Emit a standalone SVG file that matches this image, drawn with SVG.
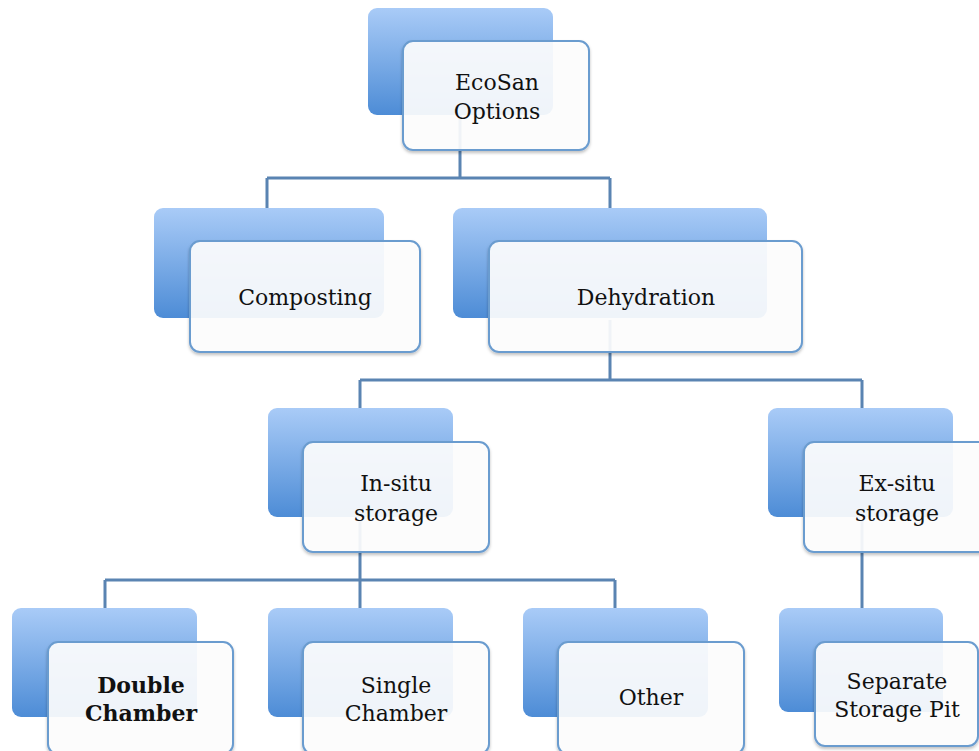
<svg xmlns="http://www.w3.org/2000/svg" width="979" height="751" viewBox="0 0 979 751">
<defs>
<linearGradient id="bg" x1="0" y1="0" x2="0" y2="1">
<stop offset="0" stop-color="#a9cbf7"/>
<stop offset="1" stop-color="#4d8cd6"/>
</linearGradient>
<filter id="sh" x="-10%" y="-10%" width="120%" height="130%">
<feDropShadow dx="0" dy="2" stdDeviation="1.5" flood-color="#000" flood-opacity="0.25"/>
</filter>
</defs>
<style>
.back{fill:url(#bg);}
.front{fill:#ffffff;fill-opacity:0.9;stroke:#6b9ccf;stroke-width:2;filter:url(#sh);}
.lbl{font-family:"DejaVu Serif","Liberation Serif",serif;font-size:22px;fill:#111;text-anchor:middle;}
.b{font-weight:bold;}
.conn{fill:none;stroke:#5a84b2;stroke-width:3;}
</style>
<rect width="979" height="751" fill="#ffffff"/>
<g id="connectors">
<path class="conn" d="M460,110 V178 M267,178 H610 M267,178 V208 M610,178 V208"/>
<path class="conn" d="M610,320 V380 M360,380 H862 M360,380 V408 M862,380 V408"/>
<path class="conn" d="M360,520 V580 M105,580 H615 M105,580 V608 M360,580 V608 M615,580 V608"/>
<path class="conn" d="M862,520 V608"/>
</g>
<g id="ecosan">
<rect class="back" x="368" y="8" width="185" height="107" rx="9"/>
<rect class="front" x="403" y="41" width="186" height="109" rx="10"/>
<text class="lbl" x="497" y="90">EcoSan</text>
<text class="lbl" x="497" y="119">Options</text>
</g>
<g id="composting">
<rect class="back" x="154" y="208" width="230" height="110" rx="9"/>
<rect class="front" x="190" y="241" width="230" height="111" rx="10"/>
<text class="lbl" x="305" y="305">Composting</text>
</g>
<g id="dehydration">
<rect class="back" x="453" y="208" width="314" height="110" rx="9"/>
<rect class="front" x="489" y="241" width="313" height="111" rx="10"/>
<text class="lbl" x="646" y="305">Dehydration</text>
</g>
<g id="insitu">
<rect class="back" x="268" y="408" width="185" height="109" rx="9"/>
<rect class="front" x="303" y="442" width="186" height="110" rx="10"/>
<text class="lbl" x="396" y="491">In-situ</text>
<text class="lbl" x="396" y="521">storage</text>
</g>
<g id="exsitu">
<rect class="back" x="768" y="408" width="185" height="109" rx="9"/>
<rect class="front" x="804" y="442" width="186" height="110" rx="10"/>
<text class="lbl" x="897" y="491">Ex-situ</text>
<text class="lbl" x="897" y="521">storage</text>
</g>
<g id="double">
<rect class="back" x="12" y="608" width="185" height="109" rx="9"/>
<rect class="front" x="48" y="642" width="185" height="112" rx="10"/>
<text class="lbl b" x="141" y="693">Double</text>
<text class="lbl b" x="141" y="721">Chamber</text>
</g>
<g id="single">
<rect class="back" x="268" y="608" width="185" height="109" rx="9"/>
<rect class="front" x="303" y="642" width="186" height="112" rx="10"/>
<text class="lbl" x="396" y="693">Single</text>
<text class="lbl" x="396" y="721">Chamber</text>
</g>
<g id="other">
<rect class="back" x="523" y="608" width="185" height="109" rx="9"/>
<rect class="front" x="558" y="642" width="186" height="112" rx="10"/>
<text class="lbl" x="651" y="705">Other</text>
</g>
<g id="separate">
<rect class="back" x="779" y="608" width="164" height="104" rx="9"/>
<rect class="front" x="815" y="642" width="163" height="104" rx="10"/>
<text class="lbl" x="897" y="689">Separate</text>
<text class="lbl" x="897" y="717">Storage Pit</text>
</g>
</svg>
